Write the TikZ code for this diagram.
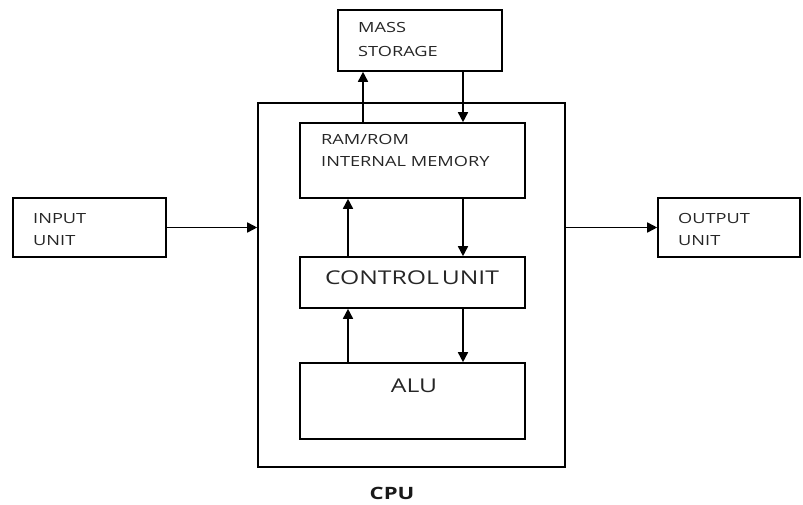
\documentclass[tikz,border=0pt]{standalone}
\usepackage{fontspec}
\setmainfont{Open Sans}
\newfontfamily\widefont[FakeStretch=1.3]{Open Sans}
\usetikzlibrary{arrows.meta}
\begin{document}
\begin{tikzpicture}[x=1pt,y=-1pt,
  box/.style={draw, line width=1.6pt, inner sep=0pt},
  lbl/.style={anchor=base west, inner sep=0pt, font=\widefont\fontsize{14}{16}\selectfont, text=black!85},
  big/.style={anchor=base, inner sep=0pt, font=\widefont\fontsize{19}{22}\selectfont, text=black!85},
  arr/.style={line width=1.6pt, -{Triangle[length=10pt,width=10pt]}}]
\useasboundingbox (0,0) rectangle (803,505);
% boxes
\node[box, minimum width=164pt, minimum height=61pt] (ms) at (420,40.5) {};
\node[box, minimum width=307pt, minimum height=364pt] (cpu) at (411.5,285) {};
\node[box, minimum width=225pt, minimum height=75pt] (ram) at (412.5,160.5) {};
\node[box, minimum width=225pt, minimum height=51pt] (cu) at (412.5,282.5) {};
\node[box, minimum width=225pt, minimum height=76pt] (alu) at (412.5,401) {};
\node[box, minimum width=153pt, minimum height=59pt] (in) at (89.5,227.5) {};
\node[box, minimum width=142pt, minimum height=59pt] (out) at (729,227.5) {};
% labels
\node[lbl] (t1) at (358,33) {MASS};
\node[lbl] (t2) at (358,57) {STORAGE};
\node[lbl] (t3) at (321,145) {RAM/ROM};
\node[lbl] (t4) at (321,167) {INTERNAL MEMORY};
\node[lbl] (t5) at (33,223) {INPUT};
\node[lbl] (t6) at (33,245) {UNIT};
\node[lbl] (t7) at (678,223) {OUTPUT};
\node[lbl] (t8) at (678,245) {UNIT};
\node[big] (t9) at (412,284) {CONTROL\hspace{0.15em}UNIT};
\node[big] (t10) at (414,392) {ALU};
\node[anchor=base, inner sep=0pt, font=\widefont\fontsize{17}{20}\selectfont\bfseries, text=black!90] (t11) at (392,499) {CPU};
% arrows
\draw[arr] (ram.north -| 363,0) -- (ms.south -| 363,0);
\draw[arr] (ms.south -| 463,0) -- (ram.north -| 463,0);
\draw[arr] (cu.north -| 348,0) -- (ram.south -| 348,0);
\draw[arr] (ram.south -| 463,0) -- (cu.north -| 463,0);
\draw[arr] (alu.north -| 348,0) -- (cu.south -| 348,0);
\draw[arr] (cu.south -| 463,0) -- (alu.north -| 463,0);
\draw[arr] (in.east) -- (cpu.west |- in.east);
\draw[arr] (cpu.east |- out.west) -- (out.west);
\end{tikzpicture}
\end{document}
